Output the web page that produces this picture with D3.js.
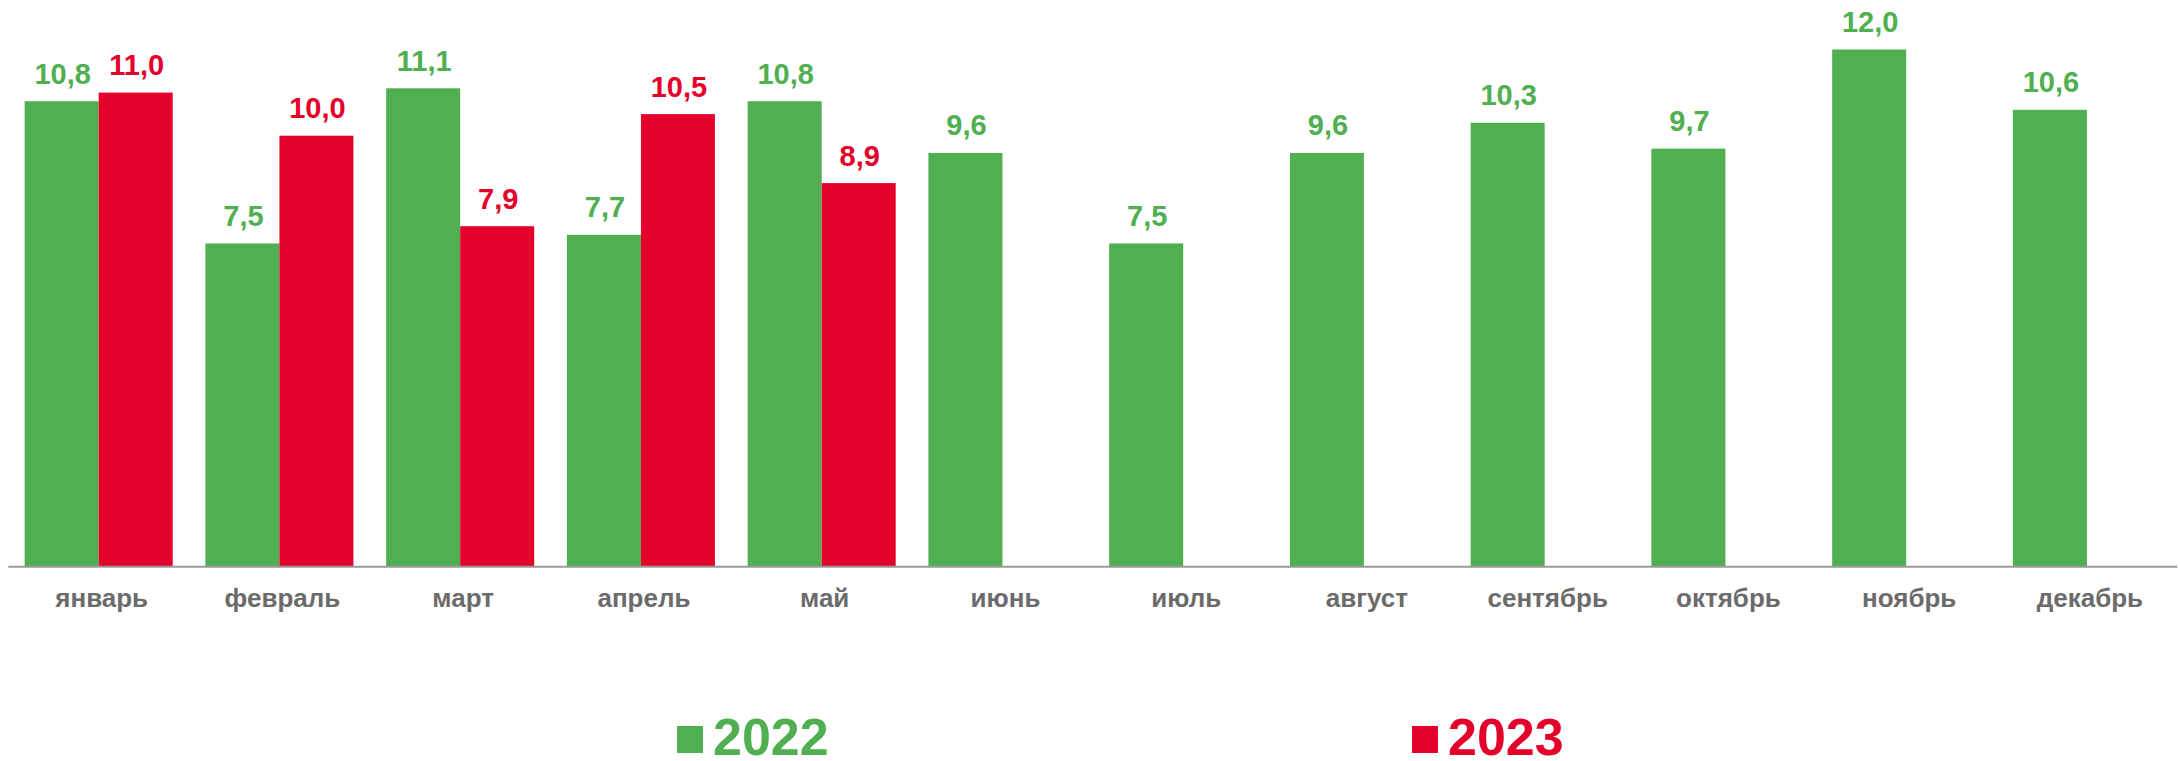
<!DOCTYPE html>
<html>
<head>
<meta charset="utf-8">
<script src="https://cdn.jsdelivr.net/npm/d3@7"></script>
<style>
  html, body { margin: 0; padding: 0; background: #fff; }
  svg { display: block; font-family: "Liberation Sans", Arial, sans-serif; }
</style>
</head>
<body>
<svg id="chart" width="2180" height="761"></svg>
<script>
const months = ["январь","февраль","март","апрель","май","июнь","июль","август","сентябрь","октябрь","ноябрь","декабрь"];
const values2022 = [10.8, 7.5, 11.1, 7.7, 10.8, 9.6, 7.5, 9.6, 10.3, 9.7, 12.0, 10.6];
const values2023 = [11.0, 10.0, 7.9, 10.5, 8.9];
const seriesNames = ["2022", "2023"];
const colors = ["#50AF50", "#E3002B"];

const svg = d3.select("#chart");
const x0 = 8.3, x1 = 2177.3, yBase = 566.7, pxPerUnit = 43.1;

const x = d3.scaleBand().domain(months).range([x0, x1]).paddingInner(0.181).paddingOuter(0.0905);
const xs = d3.scaleBand().domain(seriesNames).range([0, x.bandwidth()]);
const y = d3.scaleLinear().domain([0, 13]).range([yBase, yBase - 13 * pxPerUnit]);

const fmt = v => d3.format(".1f")(v).replace(".", ",");

const data = [];
values2022.forEach((v, i) => data.push({ m: months[i], s: "2022", v, c: colors[0] }));
values2023.forEach((v, i) => data.push({ m: months[i], s: "2023", v, c: colors[1] }));

svg.append("g").selectAll("rect").data(data).join("rect")
  .attr("x", d => x(d.m) + xs(d.s))
  .attr("y", d => y(d.v))
  .attr("width", xs.bandwidth())
  .attr("height", d => y(0) - y(d.v))
  .attr("fill", d => d.c);

svg.append("g").selectAll("text").data(data).join("text")
  .attr("x", d => x(d.m) + xs(d.s) + xs.bandwidth() / 2 + 1)
  .attr("y", d => y(d.v) - 17.5)
  .attr("text-anchor", "middle")
  .attr("font-size", 29)
  .attr("font-weight", "bold")
  .attr("fill", d => d.c)
  .text(d => fmt(d.v));

// axis
const xAxis = d3.axisBottom(x).tickSize(0).tickPadding(0);
const ax = svg.append("g").attr("transform", `translate(0,${yBase})`).call(xAxis);
ax.select(".domain").attr("stroke", "#9a9a9a").attr("stroke-width", 2).attr("d", `M${x0},0H${x1}`);
ax.selectAll(".tick text")
  .attr("dy", 0)
  .attr("y", 40.5)
  .attr("dx", 3)
  .attr("font-size", 26)
  .attr("font-weight", "bold")
  .attr("font-family", "'Liberation Sans', Arial, sans-serif")
  .attr("fill", "#6b6b6b");

// legend
const legendX = [677, 1412];
const lg = svg.append("g").selectAll("g").data(seriesNames).join("g")
  .attr("transform", (d, i) => `translate(${legendX[i]},0)`);
lg.append("rect").attr("x", 0).attr("y", 726).attr("width", 26).attr("height", 27)
  .attr("fill", (d, i) => colors[i]);
lg.append("text").attr("x", 36).attr("y", 755)
  .attr("font-size", 52).attr("font-weight", "bold")
  .attr("fill", (d, i) => colors[i])
  .text(d => d);
</script>
</body>
</html>
